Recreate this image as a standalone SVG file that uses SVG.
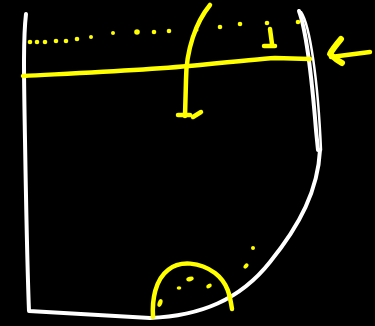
<svg xmlns="http://www.w3.org/2000/svg" width="375" height="326" viewBox="0 0 375 326">
<style>
.w{fill:none;stroke:#fff;stroke-width:4;stroke-linecap:round;stroke-linejoin:round}
.w2{fill:none;stroke:#fff;stroke-width:2.5;stroke-linecap:round}
.y{fill:none;stroke:#ffff00;stroke-width:4.5;stroke-linecap:round;stroke-linejoin:round}
.y6{fill:none;stroke:#ffff00;stroke-width:6;stroke-linecap:round;stroke-linejoin:round}
.d{fill:#ffff00}
</style>
<rect width="375" height="326" fill="#000"/>
<g id="outline">
<path class="w" d="M26,14 C23,40 24,80 25,140 C26,200 27,260 29,311 L150,318 C200,316 240,300 270,262 C300,225 318,190 320,150"/>
<path class="w" d="M299,11 C306,30 312,80 316,130 L318,150"/>
<path class="w2" d="M301,12 C310,25 318,80 321,150"/>
</g>
<g id="cut-line">
<path class="y" d="M23,76 C80,73 150,70 200,65 C240,61 260,59 275,58 L310,59"/>
</g>
<g id="fold-arrow">
<path class="y" d="M210,5 C196,22 186,50 186,80 L185,116"/>
<path class="y" d="M178,115 L190,115 M193,117 L201,112"/>
</g>
<g id="small-mark">
<path class="y" d="M270,29 L272,44 M264,46 L275,46"/>
</g>
<g id="arrow">
<path class="y" d="M370,52 L331,57"/>
<path class="y6" d="M341,39 C336,45 332,50 330,54 C334,58 338,61 342,63"/>
</g>
<g id="dots" class="d">
<circle cx="30" cy="42" r="2.3"/><circle cx="37" cy="42" r="2.3"/><circle cx="45" cy="42" r="2.3"/><circle cx="56" cy="41" r="2.3"/><circle cx="66" cy="41" r="2.3"/><circle cx="77" cy="39" r="2.3"/><circle cx="91" cy="37" r="2"/><circle cx="113" cy="33" r="2"/><circle cx="137" cy="32" r="2.8"/><circle cx="154" cy="32" r="2.3"/><circle cx="169" cy="31" r="2.3"/><circle cx="197" cy="30" r="1.5"/><circle cx="220" cy="27" r="2.3"/><circle cx="240" cy="24" r="2.3"/><circle cx="267" cy="23" r="2.3"/><circle cx="298" cy="22" r="2.3"/>
</g>
<g id="arch">
<path class="y" d="M153,317 C152,300 155,280 168,270 C180,260 200,262 215,273 C228,283 230,296 232,309"/>
</g>
<g id="arch-dots" class="d">
<ellipse cx="160" cy="303" rx="2.3" ry="4" transform="rotate(20 160 303)"/>
<ellipse cx="179" cy="288" rx="2.3" ry="1.8"/>
<ellipse cx="190" cy="279" rx="3.8" ry="2.2" transform="rotate(-15 190 279)"/>
<ellipse cx="209" cy="286" rx="3" ry="2" transform="rotate(-30 209 286)"/>
<ellipse cx="246" cy="266" rx="3" ry="2" transform="rotate(-50 246 266)"/>
<circle cx="253" cy="248" r="2"/>
</g>
</svg>
